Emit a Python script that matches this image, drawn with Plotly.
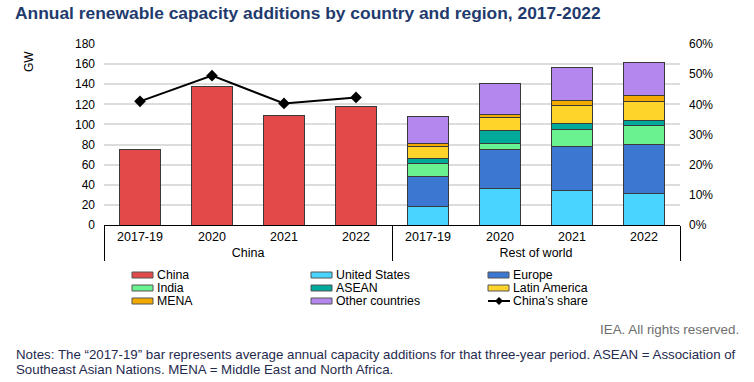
import plotly.graph_objects as go

# ---------------- data ----------------
years = ["2017-19", "2020", "2021", "2022"]
groups = ["China", "Rest of world"]

china = [75, 137.5, 108.5, 118]
china_share = [41, 49.5, 40.3, 42.3]

rest_names = ["United States", "Europe", "India", "ASEAN", "Latin America", "MENA", "Other countries"]
united_states = [18.6, 36.5, 34.5, 31.5]
europe = [29.8, 39.0, 43.7, 48.3]
india = [12.9, 5.3, 17.2, 18.9]
asean = [4.6, 13.6, 5.3, 5.7]
latin_america = [12.3, 12.6, 18.3, 18.6]
mena = [3.0, 2.7, 4.6, 5.9]
other = [27.2, 31.5, 32.8, 32.4]
rest_values = [united_states, europe, india, asean, latin_america, mena, other]

y_ticks = [0, 20, 40, 60, 80, 100, 120, 140, 160, 180]
y2_ticks = [0, 10, 20, 30, 40, 50, 60]
y2_labels = [f"{v}%" for v in y2_ticks]

notes_lines = [
    "Notes: The \u201c2017-19\u201d bar represents average annual capacity additions for that three-year period. ASEAN = Association of",
    "Southeast Asian Nations. MENA = Middle East and North Africa.",
]

# ---------------- styles ----------------
china_color = "#E24A4A"
rest_colors = ["#48D4FF", "#3C78D2", "#6BF290", "#00A99A", "#FFD42A", "#F2A900", "#B387EE"]
edge = "#3a3a3a"
FONT = "Liberation Sans, Arial, sans-serif"

W, H = 754, 382
L, R, T, B = 104, 74, 44, 157
PW, PH = W - L - R, H - T - B


def px(x):
    return (x - L) / PW


def py(y):
    return (H - B - y) / PH


fig = go.Figure()

fig.add_trace(go.Bar(
    x=[["China"] * 4, years], y=china, name="China",
    marker=dict(color=china_color, line=dict(color=edge, width=1)),
    showlegend=False,
))
for name, vals, col in zip(rest_names, rest_values, rest_colors):
    fig.add_trace(go.Bar(
        x=[["Rest of world"] * 4, years], y=vals, name=name,
        marker=dict(color=col, line=dict(color=edge, width=1)),
        showlegend=False,
    ))

fig.add_trace(go.Scatter(
    x=[["China"] * 4, years], y=china_share, name="China's share",
    yaxis="y2", mode="lines+markers",
    line=dict(color="black", width=2),
    marker=dict(symbol="diamond", size=9, color="black"),
    showlegend=False,
))

# ---------------- manual legend ----------------
legend_names = ["China"] + rest_names + ["China's share"]
legend_colors = [china_color] + rest_colors + [None]
col_x = [132, 311, 488]
row_y = [275, 288, 301]
shapes = []
annotations = []
for i, (nm, col) in enumerate(zip(legend_names, legend_colors)):
    cx = col_x[i % 3]
    cy = row_y[i // 3]
    if col is not None:
        shapes.append(dict(
            type="rect", xref="paper", yref="paper",
            x0=px(cx), x1=px(cx + 21), y0=py(cy - 3), y1=py(cy + 3),
            fillcolor=col, line=dict(color="#555555", width=1),
        ))
    else:
        shapes.append(dict(
            type="line", xref="paper", yref="paper",
            x0=px(cx), x1=px(cx + 22), y0=py(cy), y1=py(cy),
            line=dict(color="black", width=2),
        ))
        mx = cx + 11
        shapes.append(dict(
            type="path", xref="paper", yref="paper",
            path=f"M {px(mx - 4)} {py(cy)} L {px(mx)} {py(cy - 4)} L {px(mx + 4)} {py(cy)} L {px(mx)} {py(cy + 4)} Z",
            fillcolor="black", line=dict(color="black", width=0),
        ))
    annotations.append(dict(
        text=nm, xref="paper", yref="paper", x=px(cx + 23), y=py(cy),
        xanchor="left", yanchor="middle", showarrow=False,
        font=dict(family=FONT, size=12.3, color="black"),
    ))

# axis title GW
annotations.append(dict(
    text="GW", xref="paper", yref="paper", x=px(29), y=py(62),
    xanchor="center", yanchor="middle", textangle=-90, showarrow=False,
    font=dict(family=FONT, size=12, color="black"),
))
# credit
annotations.append(dict(
    text="IEA. All rights reserved.", xref="paper", yref="paper", x=px(741), y=py(329),
    xanchor="right", yanchor="middle", showarrow=False,
    font=dict(family=FONT, size=13.4, color="#6e6e6e"),
))
# notes
for line, yy in zip(notes_lines, [354.5, 369.5]):
    annotations.append(dict(
        text=line, xref="paper", yref="paper", x=px(14), y=py(yy),
        xanchor="left", yanchor="middle", align="left", showarrow=False,
        font=dict(family=FONT, size=13.3, color="#1f2a4e"),
    ))

fig.update_layout(
    width=W, height=H,
    margin=dict(l=L, r=R, t=T, b=B, autoexpand=False),
    paper_bgcolor="white", plot_bgcolor="white",
    barmode="stack", bargap=0.43,
    font=dict(family=FONT, size=12, color="black"),
    title=dict(
        text="<b>Annual renewable capacity additions by country and region, 2017-2022</b>",
        x=15 / W, xanchor="left", xref="container",
        y=1 - 12.5 / H, yanchor="middle", yref="container",
        font=dict(family=FONT, size=17.4, color="#1F3B6E"),
    ),
    xaxis=dict(
        type="multicategory",
        showline=True, linecolor="black", linewidth=1,
        showgrid=False, ticks="",
        showdividers=True, dividercolor="black", dividerwidth=1,
        tickfont=dict(family=FONT, size=12.5, color="black"),
    ),
    yaxis=dict(
        range=[0, 180], tickvals=y_ticks,
        showgrid=True, gridcolor="#dcdcdc", gridwidth=1.5,
        zeroline=False, showline=False, ticks="",
        ticklabelstandoff=8,
        tickfont=dict(family=FONT, size=12, color="black"),
    ),
    yaxis2=dict(
        overlaying="y", side="right", range=[0, 60],
        tickmode="array", tickvals=y2_ticks, ticktext=y2_labels,
        showgrid=False, zeroline=False, showline=False, ticks="",
        ticklabelstandoff=8,
        tickfont=dict(family=FONT, size=12, color="black"),
    ),
    shapes=shapes, annotations=annotations,
    showlegend=False,
)

fig.write_html(
    "out.html",
    config={"displayModeBar": False},
    post_script="document.body.style.margin='0';document.body.style.padding='0';",
)
